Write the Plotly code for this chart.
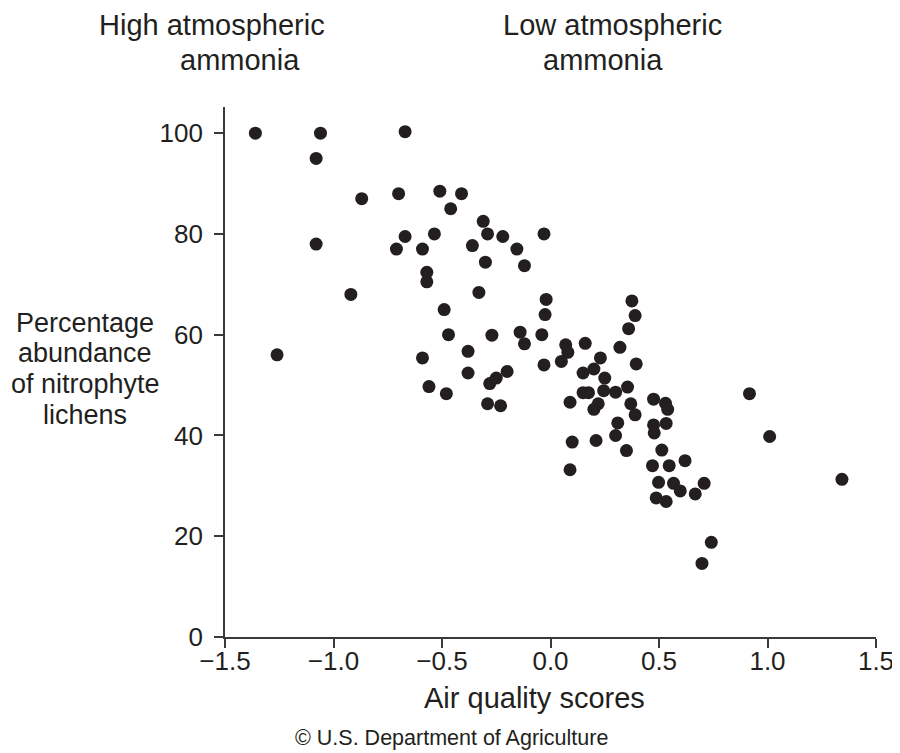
import plotly.graph_objects as go

# air quality score vs % abundance of nitrophyte lichens
air_quality = [
    -1.36, -1.06, -0.67, -1.08, -0.87, -0.70, -0.51, -0.46, -0.67, -0.535,
    -1.08, -0.71, -0.59, -0.57, -0.57, -0.92, -0.49, -0.41, -0.31, -0.29,
    -0.36, -0.22, -0.155, -0.03, -0.30, -0.12, -0.33, -0.02, -0.025, 0.375,
    0.39, -1.26, -0.47, -0.59, -0.56, -0.48, 0.36, -0.27, -0.14, -0.12,
    -0.04, -0.38, -0.38, -0.28, -0.25, -0.20, -0.29, -0.23, -0.03, 0.07,
    0.08, 0.05, 0.16, 0.32, 0.395, 0.23, 0.20, 0.15, 0.25, 0.09,
    0.15, 0.175, 0.245, 0.30, 0.355, 0.22, 0.20, 0.37, 0.39, 0.31,
    0.30, 0.10, 0.21, 0.35, 0.09, 0.475, 0.53, 0.54, 0.475, 0.533,
    0.478, 0.513, 0.47, 0.547, 0.62, 0.498, 0.567, 0.598, 0.708, 0.667,
    0.487, 0.533, 0.917, 1.01, 1.343, 0.741, 0.698,
]
abundance = [
    100, 100, 100.3, 95, 87, 88, 88.5, 85, 79.5, 80,
    78, 77, 77, 72.4, 70.5, 68, 65, 88, 82.5, 80,
    77.7, 79.5, 77, 80, 74.4, 73.7, 68.4, 67, 64, 66.7,
    63.8, 56, 60, 55.4, 49.7, 48.3, 61.2, 59.9, 60.5, 58.2,
    60, 56.7, 52.4, 50.3, 51.4, 52.7, 46.3, 45.9, 54, 58,
    56.5, 54.7, 58.3, 57.5, 54.2, 55.4, 53.2, 52.4, 51.4, 46.6,
    48.5, 48.5, 48.9, 48.6, 49.6, 46.3, 45.2, 46.3, 44.1, 42.5,
    40, 38.7, 39, 37, 33.2, 47.2, 46.4, 45.2, 42.1, 42.4,
    40.5, 37.1, 34, 34, 35, 30.7, 30.5, 29, 30.5, 28.4,
    27.6, 26.9, 48.3, 39.8, 31.3, 18.8, 14.6,
]

x_ticks = [-1.5, -1.0, -0.5, 0.0, 0.5, 1.0, 1.5]
x_tick_text = ["\u22121.5", "\u22121.0", "\u22120.5", "0.0", "0.5", "1.0", "1.5"]
y_ticks = [0, 20, 40, 60, 80, 100]

ylabel_lines = ["Percentage", "abundance", "of nitrophyte", "lichens"]

ink = "#231f20"
axis_col = "#3a3a3a"
font = "Liberation Sans, Arial, Helvetica, sans-serif"

fig = go.Figure()
fig.add_trace(go.Scatter(
    x=air_quality, y=abundance, mode="markers",
    marker=dict(size=13, color=ink, line=dict(width=0)),
    hoverinfo="skip", showlegend=False,
))

fig.update_xaxes(
    range=[-1.5, 1.5], tickvals=x_ticks, ticktext=x_tick_text,
    showgrid=False, zeroline=False,
    showline=True, linecolor=axis_col, linewidth=1.6,
    ticks="outside", ticklen=9, tickwidth=1.6, tickcolor=axis_col,
    tickfont=dict(family=font, size=26, color=ink),
    ticklabelstandoff=-9,
)
fig.update_yaxes(
    range=[0, 105.2], tickvals=y_ticks,
    showgrid=False, zeroline=False,
    showline=True, linecolor=axis_col, linewidth=1.6,
    ticks="outside", ticklen=9, tickwidth=1.6, tickcolor=axis_col,
    tickfont=dict(family=font, size=26, color=ink),
    ticklabelstandoff=6,
)

ann = [
    dict(text="High atmospheric", x=-0.02, y=1.155, size=29),
    dict(text="ammonia", x=0.023, y=1.089, size=29),
    dict(text="Low atmospheric", x=0.596, y=1.155, size=29),
    dict(text="ammonia", x=0.581, y=1.089, size=29),
    dict(text="Air quality scores", x=0.475, y=-0.115, size=29),
    dict(text="\u00a9 U.S. Department of Agriculture", x=0.348, y=-0.19, size=21.5),
]
for i, line in enumerate(ylabel_lines):
    ann.append(dict(text=line, x=-0.215, y=0.593 - i * 0.058, size=27))

for a in ann:
    fig.add_annotation(
        text=a["text"], xref="paper", yref="paper", x=a["x"], y=a["y"],
        xanchor="center", yanchor="middle", showarrow=False,
        font=dict(family=font, size=a["size"], color=ink),
    )

# the page body adds 8px, so the plot box is offset to land where the reference has it
fig.update_layout(
    width=900, height=753,
    margin=dict(l=217, r=32, t=99, b=124),
    plot_bgcolor="white", paper_bgcolor="white",
)

fig.write_html("out.html")
